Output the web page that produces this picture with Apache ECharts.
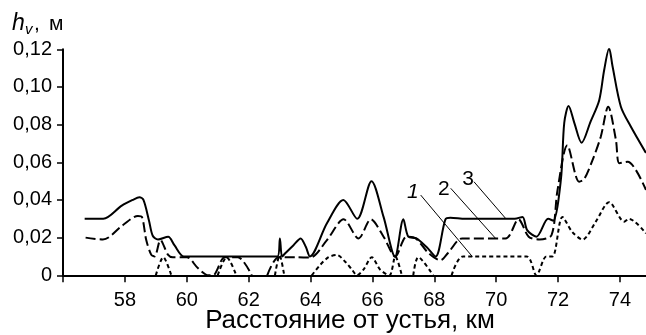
<!DOCTYPE html>
<html><head><meta charset="utf-8">
<script src="https://cdn.jsdelivr.net/npm/echarts@6/dist/echarts.min.js"></script>
<style>html,body{margin:0;padding:0;background:#fff}#c{width:646px;height:335px}</style>
</head><body><div id="c"></div>
<script>
// Curve 3 (solid)
const km3 = [56.7,57.3,57.9,58.25,58.47,58.6,58.78,58.9,59.07,59.4,59.6,59.91,60.5,61.5,62.5,62.93,63.01,63.08,63.2,63.45,63.68,63.85,63.98,64.53,65.06,65.51,65.97,66.36,66.73,67.0,67.16,67.42,67.75,68.04,68.36,68.52,69.0,70.0,70.6,70.85,71.0,71.3,71.68,71.84,72.09,72.2,72.34,72.53,72.76,73.05,73.33,73.49,73.65,73.76,74.03,74.35,74.84];
const h3  = [0.030,0.030,0.037,0.040,0.0414,0.040,0.029,0.021,0.019,0.0205,0.016,0.010,0.010,0.010,0.010,0.010,0.0196,0.010,0.012,0.016,0.0196,0.015,0.010,0.0276,0.040,0.030,0.050,0.031,0.0099,0.0297,0.0205,0.0196,0.015,0.010,0.0297,0.0306,0.030,0.030,0.030,0.031,0.024,0.0205,0.030,0.029,0.0506,0.081,0.0899,0.0807,0.0704,0.0816,0.093,0.109,0.1205,0.111,0.0895,0.079,0.065];
// Curve 2 (dashed); null = part lying on the axis (not visible)
const km2 = [56.73,57.29,57.94,58.42,58.55,58.69,58.85,58.96,59.15,59.39,59.55,60.0,60.35,60.7,60.85,61.23,61.65,62.1,62.35,62.6,62.97,63.5,63.99,64.53,65.07,65.55,65.95,66.36,66.74,67.1,67.4,67.8,68.2,68.45,68.9,70.3,70.72,71.05,71.4,71.79,71.98,72.3,72.68,72.84,73.11,73.38,73.62,73.87,73.98,74.25,74.84];
const h2  = [0.020,0.019,0.0267,0.0315,0.031,0.0187,0.011,0.010,0.0187,0.011,0.0096,0.0096,0.004,0,0,0.0096,0.0096,0,null,0,0.0096,0.0096,0.0094,0.0187,0.0297,0.0196,0.0297,0.0205,0.010,0.0205,0.0196,0.012,0.008,0.012,0.0196,0.0196,0.0297,0.0205,0.019,0.0214,0.045,0.069,0.0497,0.051,0.061,0.0736,0.0895,0.0718,0.0595,0.0603,0.0453];
// Curve 1 (dotted); null = part lying on the axis (not visible)
const km1 = [59.0,59.24,59.5,60.3,61.0,61.29,61.6,62.2,62.85,63.0,63.15,63.6,64.04,64.31,64.58,64.85,65.12,65.34,65.5,65.71,65.98,66.25,66.55,66.74,66.95,67.15,67.32,67.48,67.96,68.3,68.56,68.93,70.98,71.3,71.62,71.82,72.14,72.46,72.79,73.22,73.65,74.14,74.29,74.84];
const h1  = [0,0.0096,0,null,0,0.0096,0,null,0,0.0105,0,null,0,0.0055,0.0096,0.0108,0.0072,0.003,0,0.003,0.0096,0.003,0,0.010,0,null,0,0.0096,0,null,0,0.010,0.010,0,0.010,0.010,0.031,0.023,0.019,0.0285,0.0388,0.0285,0.030,0.0223];
const xTickLabels = [58,60,62,64,66,68,70,72,74];
const yTickLabels = ['0','0,02','0,04','0,06','0,08','0,10','0,12'];
const curveNames = ['1','2','3'];
const xName = 'Расстояние от устья, км';

const zip = (a,b) => a.map((v,i)=>[v,b[i]]);
const FONT = '"Liberation Sans", Arial, sans-serif';
const chart = echarts.init(document.getElementById('c'), null, {renderer:'canvas'});
const base = {type:'line', smooth:0.3, showSymbol:false, symbol:'none', animation:false, clip:true, connectNulls:false};
chart.setOption({
  animation:false,
  backgroundColor:'#fff',
  grid:{left:63, top:49.3, width:587.9, height:226, containLabel:false, outerBoundsMode:'none'},
  xAxis:{type:'value', min:56, max:75, interval:2, z:10,
    axisLine:{show:true, onZero:false, lineStyle:{color:'#000', width:2}},
    axisTick:{show:true, inside:false, length:7, lineStyle:{color:'#000', width:1.5}},
    splitLine:{show:false},
    axisLabel:{margin:15, color:'#000', fontSize:20, fontFamily:FONT,
      formatter:v => xTickLabels.includes(v) ? String(v) : ''},
    name:xName, nameLocation:'middle', nameGap:33, nameMoveOverlap:false,
    nameTextStyle:{color:'#000', fontSize:26, fontFamily:FONT, padding:[0,14,0,0]}
  },
  yAxis:{type:'value', min:0, max:0.12, interval:0.02,
    axisLine:{show:true, lineStyle:{color:'#000', width:2}},
    axisTick:{show:true, inside:false, length:6, lineStyle:{color:'#000', width:1.5}},
    splitLine:{show:false},
    axisLabel:{margin:11, color:'#000', fontSize:20, fontFamily:FONT,
      formatter:v => yTickLabels[Math.round(v/0.02)]}
  },
  series:[
    Object.assign({}, base, {name:curveNames[2], data:zip(km3,h3), z:4, lineStyle:{color:'#000', width:2, type:'solid'}}),
    Object.assign({}, base, {name:curveNames[1], data:zip(km2,h2), z:3, lineStyle:{color:'#000', width:2, type:[10,4]}}),
    Object.assign({}, base, {name:curveNames[0], data:zip(km1,h1), z:2, lineStyle:{color:'#000', width:2, type:[4,3]}})
  ]
});

// annotations: curve numbers with leader lines (data coords)
const ann = [
  {t:curveNames[0], at:[67.31,0.0442], italic:true, a:[67.56,0.0426], b:[69.23,0.0099]},
  {t:curveNames[1], at:[68.31,0.0458], italic:false, a:[68.53,0.0462], b:[69.98,0.0196]},
  {t:curveNames[2], at:[69.09,0.0511], italic:false, a:[69.28,0.0497], b:[70.30,0.0303]}
];
const px = p => chart.convertToPixel({gridIndex:0}, p);
const g = [];
ann.forEach(o => {
  const c = px(o.at), a = px(o.a), b = px(o.b);
  g.push({type:'text', style:{text:o.t, x:c[0], y:c[1], textAlign:'center', textVerticalAlign:'middle',
    font:(o.italic?'italic ':'')+'21px '+FONT, fill:'#000'}});
  g.push({type:'line', shape:{x1:a[0], y1:a[1], x2:b[0], y2:b[1]}, style:{stroke:'#000', lineWidth:1}});
});
// y-axis title h_v, м
g.push({type:'text', style:{text:'h', x:12, y:24, textVerticalAlign:'middle', font:'italic 23px '+FONT, fill:'#000'}});
g.push({type:'text', style:{text:'v', x:25, y:30, textVerticalAlign:'middle', font:'italic 15px '+FONT, fill:'#000'}});
g.push({type:'text', style:{text:',', x:34, y:24, textVerticalAlign:'middle', font:'21px '+FONT, fill:'#000'}});
g.push({type:'text', style:{text:'м', x:49, y:24, textVerticalAlign:'middle', font:'21px '+FONT, fill:'#000'}});
chart.setOption({graphic:g});
</script></body></html>
